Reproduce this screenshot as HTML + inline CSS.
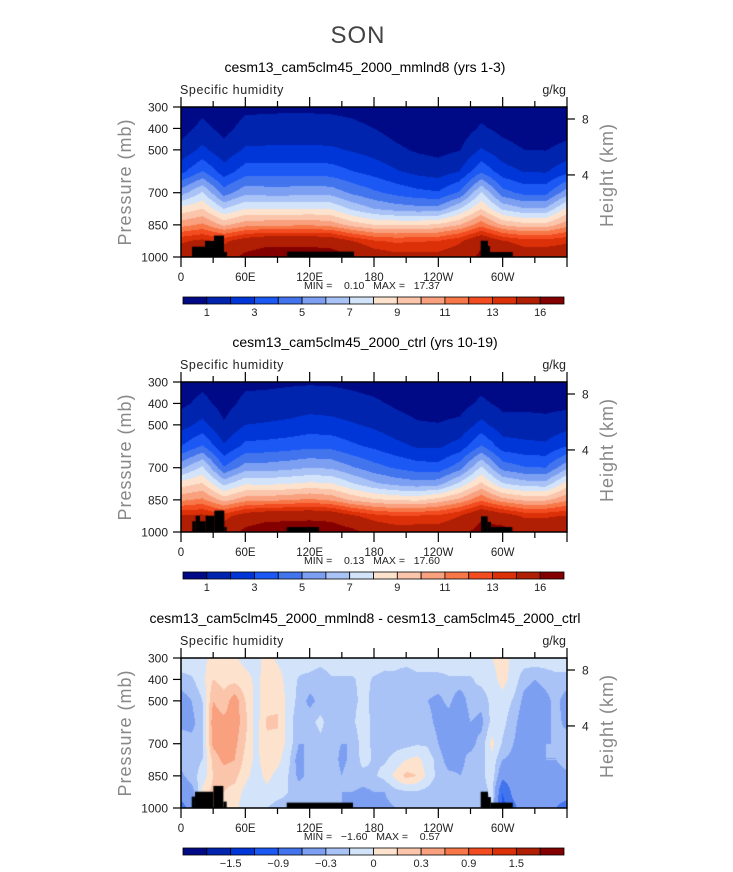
<!DOCTYPE html>
<html><head><meta charset="utf-8"><style>
html,body{margin:0;padding:0;background:#fff;}
#wrap{position:relative;width:733px;height:872px;overflow:hidden;font-family:"Liberation Sans",sans-serif;}
canvas{position:absolute;}
svg{position:absolute;left:0;top:0;}
</style></head><body>
<div id="wrap">
<canvas id="c0" width="386" height="150" style="left:181px;top:107px"></canvas>
<canvas id="c1" width="386" height="150" style="left:181px;top:382px"></canvas>
<canvas id="c2" width="386" height="150" style="left:181px;top:658px"></canvas>
<svg id="svg" width="733" height="872"></svg>
</div>
<script>
// ---- data ----
const pressLevels=[1000,925,850,775,700,600,500,400,300];
const lonsQ=[0,20,40,60,80,100,120,140,160,180,200,220,240,260,280,300,320,340,360];
const qMmlnd8=[
[15,13.8,10.6,8.3,5.55,2.68,1.29,0.62,0.3],
[15.5,14.3,11.2,9.0,7.1,4.0,2.24,1.26,0.71],
[15,13.7,9.8,7.0,4.5,2.44,1.32,0.72,0.39],
[16.5,14.8,10.6,8.0,5.7,3.5,2.13,1.31,0.8],
[17.2,15.3,10.8,7.9,5.6,3.5,2.17,1.35,0.84],
[17.2,15.3,10.8,7.9,5.6,3.5,2.18,1.36,0.85],
[17.2,15.3,10.9,8.0,5.7,3.55,2.2,1.36,0.85],
[17,15.1,10.6,7.9,5.6,3.47,2.15,1.33,0.83],
[16.2,14.0,9.6,6.8,4.8,3.0,1.9,1.2,0.76],
[15,13.1,9.0,6.0,4.2,2.6,1.6,1.0,0.62],
[14.5,12.8,8.9,5.6,3.7,2.1,1.19,0.67,0.38],
[14.5,12.9,8.9,5.4,3.3,1.7,0.88,0.45,0.23],
[14.5,13.0,9.2,5.4,3.1,1.5,0.71,0.34,0.16],
[15,13.8,10.0,7.0,4.15,2.0,0.96,0.46,0.22],
[16.5,15.4,11.6,9.0,7.1,3.8,2.1,1.13,0.61],
[16,14.1,9.9,6.8,4.4,2.44,1.35,0.74,0.41],
[15,13.4,9.4,6.1,3.7,1.93,1.0,0.52,0.27],
[15,13.4,9.4,6.1,3.7,1.89,0.97,0.5,0.25],
[15,13.8,10.6,8.3,5.55,2.68,1.29,0.62,0.3]];
const qCtrl=[
[15.3,14.1,10.8,8.5,5.75,3.0,1.6,0.75,0.33],
[15.5,14.3,11.2,9.1,7.2,4.1,2.3,1.3,0.74],
[14.9,13.5,9.6,6.7,4.1,2.1,1.1,0.62,0.35],
[16.5,14.8,10.6,7.9,5.5,3.3,2.0,1.26,0.8],
[17.2,15.3,10.7,7.8,5.5,3.4,2.1,1.32,0.82],
[17.2,15.4,10.9,8.0,5.7,3.55,2.22,1.4,0.88],
[17.3,15.5,11.2,8.2,6.0,3.75,2.45,1.55,0.9],
[17.2,15.3,10.8,8.1,5.85,3.7,2.35,1.48,0.88],
[16.5,14.2,9.8,7.1,5.1,3.2,2.1,1.3,0.8],
[15.3,13.4,9.2,6.2,4.4,2.8,1.8,1.15,0.67],
[14.8,13.0,8.9,5.7,3.9,2.3,1.4,0.87,0.45],
[14.8,13.1,8.8,5.4,3.5,1.9,1.1,0.65,0.3],
[14.8,13.2,9.4,5.6,3.4,1.85,1.05,0.55,0.22],
[15.3,14.0,10.3,7.3,4.6,2.4,1.25,0.6,0.27],
[16.8,15.6,11.8,9.2,7.2,4.1,2.3,1.2,0.64],
[16.8,14.8,10.4,7.1,4.6,2.5,1.4,0.75,0.39],
[15.4,13.8,9.8,6.5,4.1,2.3,1.35,0.78,0.32],
[15.4,13.8,9.8,6.4,4.0,2.2,1.3,0.72,0.3],
[15.3,14.1,10.8,8.5,5.75,3.0,1.6,0.75,0.33]];
const lonsD=[0,10,20,30,40,50,60,70,80,90,100,110,120,130,140,150,160,170,180,190,200,210,220,230,240,250,260,270,280,290,300,310,320,330,340,350,360];
const qDiff=[
[-0.7,-0.5,-0.35,-0.2,-0.2,-0.35,-0.4,-0.2,-0.05],
[-0.5,-0.4,-0.2,-0.2,-0.25,-0.35,-0.3,-0.17,-0.05],
[0.05,0.05,-0.1,-0.15,-0.2,-0.2,-0.15,-0.05,-0.05],
[0.1,0.2,0.15,0.2,0.35,0.4,0.3,0.15,0.05],
[0.05,0.15,0.2,0.35,0.4,0.35,0.2,0.1,0.05],
[0.05,0.1,0.2,0.3,0.35,0.4,0.4,0.1,0.02],
[-0.1,-0.05,0.05,0.1,0.15,0.2,0.15,0.05,-0.05],
[-0.15,-0.1,-0.08,-0.05,-0.05,-0.08,-0.05,-0.03,-0.05],
[-0.15,-0.05,0.05,0.1,0.12,0.17,0.1,0.05,0.05],
[-0.2,-0.1,-0.05,0.05,0.1,0.17,0.12,0.05,-0.02],
[-0.2,-0.15,-0.15,-0.1,-0.05,-0.08,-0.05,-0.05,-0.05],
[-0.25,-0.2,-0.35,-0.4,-0.3,-0.25,-0.2,-0.17,-0.05],
[-0.2,-0.2,-0.25,-0.2,-0.3,-0.2,-0.35,-0.2,-0.05],
[-0.17,-0.17,-0.2,-0.17,-0.2,-0.1,-0.25,-0.25,-0.08],
[-0.2,-0.25,-0.2,-0.2,-0.25,-0.25,-0.2,-0.17,-0.05],
[-0.3,-0.3,-0.3,-0.35,-0.3,-0.3,-0.25,-0.17,-0.05],
[-0.4,-0.3,-0.17,-0.25,-0.3,-0.2,-0.2,-0.17,-0.05],
[-0.4,-0.35,-0.2,-0.1,-0.05,0.0,-0.1,-0.1,-0.05],
[-0.35,-0.3,-0.17,-0.17,-0.2,-0.25,-0.2,-0.17,-0.05],
[-0.35,-0.3,-0.1,-0.17,-0.2,-0.17,-0.2,-0.2,-0.08],
[-0.3,-0.2,0.05,-0.1,-0.2,-0.25,-0.2,-0.2,-0.08],
[-0.3,-0.17,0.2,0.0,-0.2,-0.2,-0.25,-0.25,-0.08],
[-0.3,-0.17,0.15,0.05,-0.17,-0.2,-0.25,-0.2,-0.05],
[-0.25,-0.2,-0.05,-0.08,-0.17,-0.25,-0.3,-0.2,-0.05],
[-0.25,-0.25,-0.2,-0.2,-0.3,-0.35,-0.35,-0.2,-0.05],
[-0.3,-0.2,-0.25,-0.4,-0.5,-0.4,-0.25,-0.17,-0.05],
[-0.3,-0.25,-0.3,-0.35,-0.3,-0.5,-0.45,-0.17,-0.05],
[-0.3,-0.25,-0.25,-0.25,-0.35,-0.3,-0.2,-0.17,-0.05],
[-0.3,-0.25,-0.2,-0.2,-0.25,-0.35,-0.25,-0.1,-0.05],
[-0.1,-0.1,-0.05,-0.05,0.05,-0.1,-0.1,-0.05,0.0],
[-1.0,-0.9,-0.5,-0.3,-0.17,-0.1,-0.05,0.05,0.05],
[-0.7,-0.5,-0.45,-0.35,-0.3,-0.25,-0.17,-0.05,-0.03],
[-0.4,-0.35,-0.35,-0.35,-0.4,-0.4,-0.35,-0.25,-0.05],
[-0.3,-0.3,-0.35,-0.4,-0.45,-0.45,-0.4,-0.3,-0.05],
[-0.45,-0.35,-0.35,-0.3,-0.3,-0.35,-0.35,-0.25,-0.05],
[-0.6,-0.5,-0.4,-0.3,-0.3,-0.25,-0.25,-0.2,-0.05],
[-0.7,-0.5,-0.35,-0.2,-0.2,-0.35,-0.4,-0.2,-0.05]];
const levelsQ=[1,2,3,4,5,6,7,8,9,10,11,12,13,14,16];
const levelsD=[-1.8,-1.5,-1.2,-0.9,-0.6,-0.3,-0.15,0,0.15,0.3,0.6,0.9,1.2,1.5,1.8];
const labelsQ=["1","3","5","7","9","11","13","16"];
const labelIdxQ=[0,2,4,6,8,10,12,14];
const labelsD=["\u22121.5","\u22120.9","\u22120.3","0","0.3","0.9","1.5"];
const labelIdxD=[1,3,5,7,9,11,13];
const palette=["#000a86","#0024ae","#0036d8","#1c58f4","#4274ee","#7c9ff2","#a9c3f6","#d3e4fa","#fde3cd","#fbc5ac","#f9a07e","#f77748","#f24c20","#dc3108","#b01e04","#840000"];
const xTickLons=[0,60,120,180,240,300];
const xTickLabels=["0","60E","120E","180","120W","60W"];
const pTicks=[300,400,500,700,850,1000];
const hTicksKm=[8,4];
const hTicksP=[356,617];
const terrain=[
[[10.3,22.4,952],[22.4,30.8,925],[30.8,40.1,900],[40.1,42.9,977],[98.9,161.3,975],[279.5,286.3,924],[286.3,288.2,949],[288.2,309.4,977]],
[[10.5,13.7,950],[13.7,17.7,924],[17.7,23,950],[23,31.1,924],[31.1,40.4,900],[40.4,42.6,977],[98.6,128.7,977],[279.8,286,927],[286,289.1,953],[289.1,309,977]],
[[10,13,947],[13,30.2,924],[30.2,39.5,897],[39.5,42.6,970],[98.6,160.4,975],[279.5,286.3,924],[286.3,289,949],[289,309.4,975]]];
const panelTitles=["cesm13_cam5clm45_2000_mmlnd8 (yrs 1-3)","cesm13_cam5clm45_2000_ctrl (yrs 10-19)","cesm13_cam5clm45_2000_mmlnd8 - cesm13_cam5clm45_2000_ctrl"];
const minMax=["MIN =    0.10   MAX =   17.37","MIN =    0.13   MAX =   17.60","MIN =   \u22121.60   MAX =    0.57"];

// ---- scales ----
const X0=181,W=386,H=150;
const tops=[107,382,658];
function xOf(lon){return X0+lon/360*W;}
function yOf(p,top){return top+(p-300)/700*H;}

function hex(c){return [parseInt(c.substr(1,2),16),parseInt(c.substr(3,2),16),parseInt(c.substr(5,2),16)];}
const palRGB=palette.map(hex);

function sample(grid,lons,lon,p){
  let i=0;while(i<lons.length-2&&lon>lons[i+1])i++;
  const tx=(lon-lons[i])/(lons[i+1]-lons[i]);
  let j=0;while(j<pressLevels.length-2&&p<pressLevels[j+1])j++;
  const ty=(pressLevels[j]-p)/(pressLevels[j]-pressLevels[j+1]);
  const a=grid[i][j]*(1-ty)+grid[i][j+1]*ty;
  const b=grid[i+1][j]*(1-ty)+grid[i+1][j+1]*ty;
  return a*(1-tx)+b*tx;
}
function drawField(id,grid,lons,levels,ter){
  const cv=document.getElementById(id),ctx=cv.getContext('2d');
  const img=ctx.createImageData(W,H);
  for(let y=0;y<H;y++){const p=300+(y+0.5)/H*700;
    for(let x=0;x<W;x++){const lon=(x+0.5)/W*360;
      const v=sample(grid,lons,lon,p);
      let k=0;while(k<levels.length&&v>=levels[k])k++;
      const c=palRGB[k],o=(y*W+x)*4;
      img.data[o]=c[0];img.data[o+1]=c[1];img.data[o+2]=c[2];img.data[o+3]=255;}}
  ctx.putImageData(img,0,0);
  ctx.fillStyle="#000";
  ter.forEach(t=>{const x1=t[0]/360*W,x2=t[1]/360*W,yy=(t[2]-300)/700*H;ctx.fillRect(x1,yy,x2-x1,H-yy);});
}
drawField('c0',qMmlnd8,lonsQ,levelsQ,terrain[0]);
drawField('c1',qCtrl,lonsQ,levelsQ,terrain[1]);
drawField('c2',qDiff,lonsD,levelsD,terrain[2]);

// ---- svg ----
const svg=document.getElementById('svg');const NS="http://www.w3.org/2000/svg";
function el(tag,attrs,parent,text){const e=document.createElementNS(NS,tag);for(const k in attrs)e.setAttribute(k,attrs[k]);if(text!==undefined)e.textContent=text;(parent||svg).appendChild(e);return e;}
let t=el('text',{x:358,y:43,'font-size':24,'text-anchor':'middle',fill:'#444','font-weight':'normal','letter-spacing':'1'},svg,'SON');


for(let pi=0;pi<3;pi++){
  const top=tops[pi],bot=top+H;
  const g=el('g',{});
  
  
  let e=el('text',{x:365,y:top-35,'font-size':14,'text-anchor':'middle',fill:'#000'},g,panelTitles[pi]);
  
  
  e=el('text',{x:180,y:top-13,'font-size':12.5,fill:'#222','letter-spacing':'0.6'},g,'Specific humidity');
  
  
  e=el('text',{x:566,y:top-13,'font-size':12.5,'text-anchor':'end',fill:'#222'},g,'g/kg');
  
  
  e=el('rect',{x:X0,y:top,width:W,height:H,fill:'none',stroke:'#000','stroke-width':1.5},g);
  
  
  for(let lon=0;lon<=360;lon+=30){const x=xOf(lon),maj=lon%60==0,len=maj?10:6;
    el('line',{x1:x,x2:x,y1:top,y2:top-len,stroke:'#000','stroke-width':1.2},g);
    el('line',{x1:x,x2:x,y1:bot,y2:bot+len,stroke:'#000','stroke-width':1.2},g);}
  xTickLabels.forEach((lab,i)=>{e=el('text',{x:xOf(xTickLons[i]),y:bot+24,'font-size':11.5,'text-anchor':'middle',fill:'#222'},g,lab);
    
    });
  pTicks.forEach(p=>{const y=yOf(p,top);el('line',{x1:X0,x2:X0-8,y1:y,y2:y,stroke:'#000','stroke-width':1.2},g);
    e=el('text',{x:X0-13,y:y+4.5,'font-size':12,'text-anchor':'end',fill:'#222'},g,String(p));
    
    });
  hTicksP.forEach((p,i)=>{const y=yOf(p,top);el('line',{x1:X0+W,x2:X0+W+8,y1:y,y2:y,stroke:'#000','stroke-width':1.2},g);
    e=el('text',{x:X0+W+15,y:y+4.5,'font-size':12,fill:'#222'},g,String(hTicksKm[i]));
    
    });
  e=el('text',{x:0,y:0,'font-size':18,'text-anchor':'middle',fill:'#888','letter-spacing':'1',transform:'translate(131,'+(top+75)+') rotate(-90)'},g,'Pressure (mb)');
  
  
  e=el('text',{x:0,y:0,'font-size':18,'text-anchor':'middle',fill:'#888','letter-spacing':'1',transform:'translate(613,'+(top+68)+') rotate(-90)'},g,'Height (km)');
  
  
  e=el('text',{x:372,y:bot+32,'font-size':10.5,'text-anchor':'middle',fill:'#222','xml:space':'preserve',style:'white-space:pre'},g,minMax[pi]);
  
  
  const cb=el('g',{},g);
  
  
  const cy=bot+40,bw=381/16;
  for(let k=0;k<16;k++){e=el('rect',{x:183+k*bw,y:cy,width:bw,height:7,fill:palette[k],stroke:'#000','stroke-width':0.8},cb);
    
    }
  const labs=pi<2?labelsQ:labelsD,idx=pi<2?labelIdxQ:labelIdxD;
  labs.forEach((lab,i)=>{e=el('text',{x:183+(idx[i]+1)*bw,y:cy+19,'font-size':11,'text-anchor':'middle',fill:'#222'},cb,lab);
    
    });
}
</script>
</body></html>
